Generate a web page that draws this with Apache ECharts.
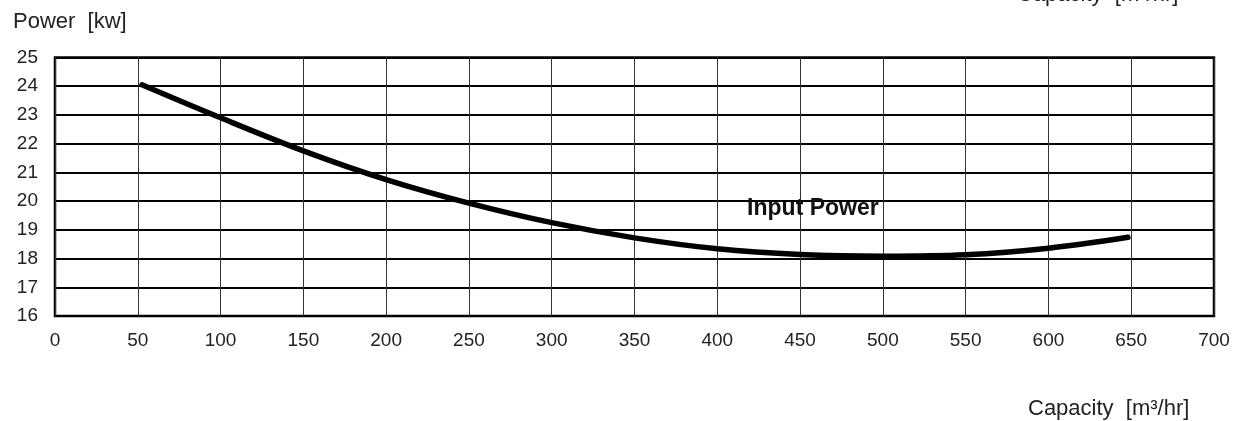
<!DOCTYPE html>
<html>
<head>
<meta charset="utf-8">
<script src="https://cdn.jsdelivr.net/npm/echarts@6/dist/echarts.min.js"></script>
<style>
html,body{margin:0;padding:0;background:#fff;}
#chart{width:1234px;height:421px;}
</style>
</head>
<body>
<div id="chart"></div>
<script>
// Data
var capacity = [52.5, 100, 150, 200, 250, 300, 350, 400, 450, 500, 550, 600, 648];
var inputPower = [24.05, 22.9, 21.75, 20.75, 19.93, 19.25, 18.72, 18.34, 18.14, 18.08, 18.13, 18.36, 18.74];
var xTicks = [0, 50, 100, 150, 200, 250, 300, 350, 400, 450, 500, 550, 600, 650, 700];
var yTicks = [16, 17, 18, 19, 20, 21, 22, 23, 24, 25];
var seriesName = 'Input Power';
var yTitle = 'Power  [kw]';
var xTitle = 'Capacity  [m³/hr]';

var FONT = '"Liberation Sans", Arial, sans-serif';

var chart = echarts.init(document.getElementById('chart'), null, {renderer: 'canvas'});
var points = capacity.map(function (c, i) { return [c, inputPower[i]]; });

chart.setOption({
  animation: false,
  backgroundColor: '#ffffff',
  grid: {
    left: 55, right: 20, top: 57.5, bottom: 105,
    show: true, borderColor: '#000', borderWidth: 2.5, backgroundColor: 'transparent'
  },
  xAxis: {
    type: 'value',
    min: xTicks[0], max: xTicks[xTicks.length - 1], interval: 50,
    axisLine: {show: false},
    axisTick: {show: false},
    splitLine: {show: true, lineStyle: {color: '#333', width: 1}},
    axisLabel: {color: '#222', fontFamily: FONT, fontSize: 19, margin: 15}
  },
  yAxis: {
    type: 'value',
    min: yTicks[0], max: yTicks[yTicks.length - 1], interval: 1,
    axisLine: {show: false},
    axisTick: {show: false},
    splitLine: {show: true, lineStyle: {color: '#000', width: 2}},
    axisLabel: {color: '#222', fontFamily: FONT, fontSize: 19, margin: 17}
  },
  series: [{
    name: seriesName,
    type: 'line',
    data: points,
    smooth: 0.35,
    showSymbol: false,
    lineStyle: {color: '#000', width: 5.5, cap: 'round'},
    z: 5,
    markPoint: {
      symbol: 'rect', symbolSize: 0,
      data: [{coord: [418, 19.75], value: seriesName}],
      label: {
        show: true, formatter: seriesName, position: 'right', distance: 0,
        color: '#111', fontWeight: 'bold', fontSize: 23, fontFamily: FONT
      }
    }
  }],
  graphic: [
    {type: 'text', left: 13, top: 11, style: {text: yTitle, fontSize: 22, fontFamily: FONT, fill: '#222'}},
    {type: 'text', left: 1017, top: -16, style: {text: xTitle, fontSize: 22, fontFamily: FONT, fill: '#222'}},
    {type: 'text', left: 1028, top: 398, style: {text: xTitle, fontSize: 22, fontFamily: FONT, fill: '#222'}}
  ]
});
</script>
</body>
</html>
